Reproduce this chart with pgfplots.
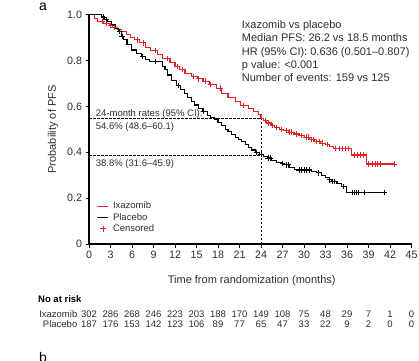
\documentclass[border=0pt]{standalone}
\usepackage{fontspec}
\setmainfont{Liberation Sans}
\usepackage{pgfplots}
\pgfplotsset{compat=1.18}
\definecolor{ixa}{RGB}{225,35,35}
\definecolor{txt}{RGB}{45,45,45}
\begin{document}
\begin{tikzpicture}[x=1pt,y=1pt]
\useasboundingbox (0,0) rectangle (419,360);
\begin{axis}[
 at={(89pt,116pt)}, anchor=south west,
 width=322.5pt, height=229.3pt, scale only axis,
 xmin=0, xmax=45, ymin=0, ymax=1,
 axis lines*=left,
 axis line style={line width=1.1pt, black},
 tick align=outside, major tick length=3.5pt,
 tick style={line width=1pt, black},
 xtick={0,3,6,9,12,15,18,21,24,27,30,33,36,39,42,45},
 xticklabels={0,3,6,9,12,15,18,21,24,27,30,33,36,39,42,45},
 ytick={0,0.2,0.4,0.6,0.8,1.0},
 yticklabels={0,0.2,0.4,0.6,0.8,1.0},
 /pgf/number format/assume math mode=true,
 ticklabel style={font=\fontsize{10.7}{12}\selectfont, text=txt},
 clip=false,
 legend style={draw=none, fill=none, at={(0.024,0.193)}, anchor=north west,
   font=\fontsize{9.5}{11}\selectfont, text=txt, row sep=-1pt, column sep=2pt, inner sep=0pt},
 legend cell align=left,
]
\addplot[const plot, ixa, line width=1.1pt,
  legend image code/.code={\draw[ixa, line width=1.1pt] (0pt,0pt) -- (11pt,0pt);}]
 coordinates {(0,1)(0.8,0.985)(1.2,0.97)(2.0,0.962)(2.8,0.952)(3.3,0.945)(4.0,0.935)(4.5,0.926)(5.2,0.912)(5.8,0.902)(6.4,0.89)(7.0,0.877)(7.9,0.857)(8.6,0.843)(9.6,0.826)(10.3,0.81)(11.3,0.79)(12.0,0.775)(12.6,0.76)(13.4,0.745)(14.3,0.73)(15.1,0.72)(15.9,0.71)(16.8,0.695)(17.8,0.68)(18.5,0.655)(19.4,0.64)(20.4,0.62)(21.2,0.605)(22.2,0.59)(23.0,0.578)(23.6,0.565)(24.0,0.548)(24.4,0.538)(24.8,0.528)(25.4,0.518)(25.9,0.508)(26.6,0.5)(27.2,0.494)(27.8,0.488)(28.6,0.48)(29.3,0.474)(30.1,0.466)(30.8,0.455)(31.5,0.446)(32.3,0.44)(33.0,0.434)(33.6,0.425)(34.1,0.417)(36.6,0.388)(38.7,0.349)(42.7,0.349)};
\addlegendentry{Ixazomib}
\addplot[const plot, black, line width=1.1pt,
  legend image code/.code={\draw[black, line width=1.1pt] (0pt,0pt) -- (11pt,0pt);}]
 coordinates {(0,1)(1.7,0.99)(2.2,0.98)(2.6,0.97)(3.2,0.955)(3.7,0.94)(4.1,0.926)(4.5,0.905)(4.8,0.89)(5.3,0.87)(5.9,0.846)(6.6,0.83)(7.3,0.817)(7.9,0.805)(8.5,0.795)(10.3,0.775)(10.6,0.76)(11.0,0.737)(11.5,0.715)(12.2,0.69)(12.8,0.672)(13.3,0.657)(13.8,0.64)(14.3,0.62)(14.7,0.606)(15.3,0.59)(15.9,0.577)(16.5,0.562)(17.0,0.552)(17.5,0.545)(18.0,0.53)(18.5,0.515)(19.0,0.5)(19.4,0.49)(19.9,0.477)(20.4,0.465)(20.9,0.455)(21.3,0.446)(21.8,0.432)(22.3,0.42)(22.7,0.41)(23.2,0.4)(23.8,0.39)(24.3,0.383)(24.9,0.375)(25.5,0.366)(26.2,0.357)(26.8,0.35)(27.3,0.345)(28.0,0.333)(28.7,0.323)(31.1,0.318)(31.8,0.31)(32.4,0.3)(33.0,0.29)(33.5,0.28)(33.9,0.272)(34.6,0.262)(35.2,0.25)(35.9,0.224)(41.3,0.224)};
\addlegendentry{Placebo}
\addplot[only marks, mark=+, mark size=2.7pt, ixa, line width=0.85pt,
  legend image code/.code={\draw[ixa, line width=0.85pt] plot[mark=+, mark size=3pt] coordinates {(5.5pt,0pt)};}]
 coordinates {(1.9,0.97)(2.4,0.962)(3.0,0.952)(3.5,0.945)(6.8,0.89)(7.6,0.877)(9.2,0.843)(11.0,0.81)(12.3,0.775)(13.0,0.76)(14.6,0.73)(15.3,0.72)(16.2,0.71)(17.0,0.695)(18.3,0.68)(21.6,0.605)(24.6,0.538)(25.1,0.528)(25.6,0.518)(26.2,0.508)(26.9,0.5)(27.5,0.494)(28.0,0.488)(28.3,0.488)(28.9,0.48)(29.6,0.474)(30.3,0.466)(30.6,0.466)(31.0,0.455)(31.3,0.455)(31.8,0.446)(32.1,0.446)(32.6,0.44)(33.3,0.434)(34.4,0.417)(34.9,0.417)(35.4,0.417)(35.8,0.417)(36.2,0.417)(37.0,0.388)(37.4,0.388)(37.9,0.388)(38.3,0.388)(39.0,0.349)(39.5,0.349)(39.9,0.349)(40.2,0.349)(40.6,0.349)(42.6,0.349)};
\addlegendentry{Censored}
\addplot[only marks, mark=+, mark size=2.7pt, black, line width=0.85pt, forget plot]
 coordinates {(2.0,0.99)(2.4,0.98)(4.3,0.926)(4.6,0.905)(7.5,0.817)(9.3,0.795)(12.5,0.69)(16.0,0.577)(23.4,0.4)(24.0,0.39)(25.0,0.375)(25.3,0.375)(27.0,0.35)(27.5,0.345)(27.8,0.345)(29.3,0.323)(29.7,0.323)(30.0,0.323)(30.4,0.323)(30.8,0.323)(32.0,0.31)(33.6,0.28)(34.0,0.272)(34.3,0.272)(35.5,0.25)(36.7,0.224)(37.0,0.224)(37.3,0.224)(37.6,0.224)(38.4,0.224)(41.2,0.224)};
\addplot[black, line width=0.9pt, dash pattern=on 2.5pt off 1.5pt, forget plot] coordinates {(0,0.546)(24,0.546)};
\addplot[black, line width=0.9pt, dash pattern=on 2.5pt off 1.5pt, forget plot] coordinates {(0,0.388)(24,0.388)};
\addplot[black, line width=0.9pt, dash pattern=on 2.5pt off 1.5pt, forget plot] coordinates {(24,0)(24,0.546)};
\end{axis}
% panel letters
\node[anchor=base west, inner sep=0, font=\fontsize{14}{16}\selectfont, text=black] at (39,349.5) {a};
\node[anchor=base west, inner sep=0, font=\fontsize{14}{16}\selectfont, text=black] at (39,-2) {b};
% axis titles
\node[rotate=90, inner sep=0, font=\fontsize{11}{13}\selectfont, text=txt] at (53,230.6) {Probability of PFS};
\node[anchor=base, inner sep=0, font=\fontsize{11}{13}\selectfont, text=txt] at (251.7,77) {Time from randomization (months)};
% statistics box
\begin{scope}[every node/.style={anchor=base west, inner sep=0, font=\fontsize{11}{13}\selectfont, text=txt}]
\node at (241.7,331.7) {Ixazomib vs placebo};
\node at (241.7,318.3) {Median PFS: 26.2 vs 18.5 months};
\node at (241.7,304.9) {HR (95\% CI): 0.636 (0.501–0.807)};
\node at (241.7,291.5) {p value: <0.001};
\node at (241.7,278.1) {Number of events: 159 vs 125};
\end{scope}
% 24-month annotations
\begin{scope}[every node/.style={anchor=base west, inner sep=0, font=\fontsize{9.5}{11}\selectfont, text=txt}]
\node at (95.7,243.5) {24-month rates (95\% CI):};
\node at (95.7,230.5) {54.6\% (48.6–60.1)};
\node at (95.7,193.5) {38.8\% (31.6–45.9)};
\end{scope}
% number at risk
\node[anchor=base west, inner sep=0, font=\bfseries\fontsize{9.5}{11}\selectfont, text=black] at (38,57.5) {No at risk};
\node[anchor=base east, inner sep=0, font=\fontsize{9.5}{11}\selectfont, text=txt] at (77.5,42.5) {Ixazomib};
\node[anchor=base east, inner sep=0, font=\fontsize{9.5}{11}\selectfont, text=txt] at (77.5,32.2) {Placebo};
\foreach \v [count=\k from 0] in {302,286,268,246,223,203,188,170,149,108,75,48,29,7,1,0}
  \node[anchor=base, inner sep=0, font=\fontsize{9.5}{11}\selectfont, text=txt] at (89+21.5*\k,42.5) {\v};
\foreach \v [count=\k from 0] in {187,176,153,142,123,106,89,77,65,47,33,22,9,2,0,0}
  \node[anchor=base, inner sep=0, font=\fontsize{9.5}{11}\selectfont, text=txt] at (89+21.5*\k,32.2) {\v};
\end{tikzpicture}
\end{document}
